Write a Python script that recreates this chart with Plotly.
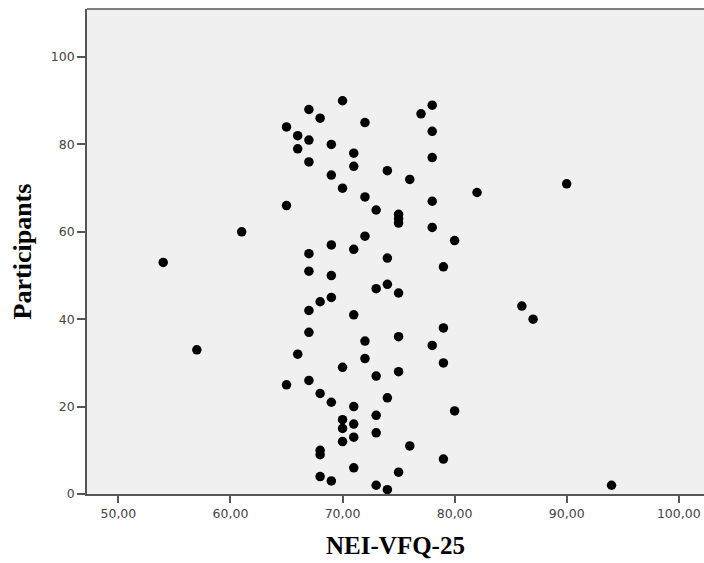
import plotly.graph_objects as go

# NEI-VFQ-25 score for each plotted participant
participant = [90, 89, 88, 87, 86, 85, 84, 83, 82, 81, 80, 79, 78, 77, 76, 75, 74, 73, 72, 71,
               70, 69, 68, 67, 66, 65, 64, 63, 62, 61, 60, 59, 58, 57, 56, 55, 54, 53, 52, 51,
               50, 48, 47, 46, 45, 44, 43, 42, 41, 40, 38, 37, 36, 35, 34, 33, 32, 31, 30, 29,
               28, 27, 26, 25, 23, 22, 21, 20, 19, 18, 17, 16, 15, 14, 13, 12, 11, 10, 9, 8,
               6, 5, 4, 3, 2, 2, 1]
nei_vfq = [70, 78, 67, 77, 68, 72, 65, 78, 66, 67, 69, 66, 71, 78, 67, 71, 74, 69, 76, 90,
           70, 82, 72, 78, 65, 73, 75, 75, 75, 78, 61, 72, 80, 69, 71, 67, 74, 54, 79, 67,
           69, 74, 73, 75, 69, 68, 86, 67, 71, 87, 79, 67, 75, 72, 78, 57, 66, 72, 79, 70,
           75, 73, 67, 65, 68, 74, 69, 71, 80, 73, 70, 71, 70, 73, 71, 70, 76, 68, 68, 79,
           71, 75, 68, 69, 73, 94, 74]

x_ticks = [50, 60, 70, 80, 90, 100]
x_tick_text = ["50,00", "60,00", "70,00", "80,00", "90,00", "100,00"]
y_ticks = [0, 20, 40, 60, 80, 100]

fig = go.Figure()
fig.add_trace(go.Scatter(
    x=nei_vfq, y=participant, mode="markers",
    marker=dict(color="black", size=9.5, line=dict(width=0)),
    showlegend=False, hoverinfo="x+y",
))

axis_col = "#555555"
tick_font = dict(family="DejaVu Sans", size=12.5, color="#444444")

fig.update_layout(
    width=704, height=563,
    margin=dict(l=87, r=0, t=9, b=69),
    paper_bgcolor="white",
    plot_bgcolor="#F0F0F0",
    xaxis=dict(
        range=[47.2, 102.25], tickvals=x_ticks, ticktext=x_tick_text,
        showgrid=False, zeroline=False,
        showline=True, linecolor=axis_col, linewidth=1.6,
        ticks="outside", ticklen=7, tickwidth=1.6, tickcolor=axis_col,
        tickfont=tick_font,
        title=dict(text="<b>NEI-VFQ-25</b>",
                   font=dict(family="Liberation Serif", size=25, color="black"),
                   standoff=17),
    ),
    yaxis=dict(
        range=[0, 111], tickvals=y_ticks,
        showgrid=False, zeroline=False,
        showline=True, linecolor=axis_col, linewidth=1.6,
        ticks="outside", ticklen=8, tickwidth=1.6, tickcolor=axis_col,
        tickfont=tick_font,
        title=dict(text="<b>Participants</b>",
                   font=dict(family="Liberation Serif", size=26, color="black"),
                   standoff=12),
    ),
    shapes=[dict(type="line", xref="paper", yref="paper", x0=0, x1=1, y0=1, y1=1,
                 line=dict(color=axis_col, width=1.6))],
)

fig.write_html(
    "out.html",
    config={"displayModeBar": False},
    post_script="document.body.style.margin='0';document.body.style.overflow='hidden';",
)
